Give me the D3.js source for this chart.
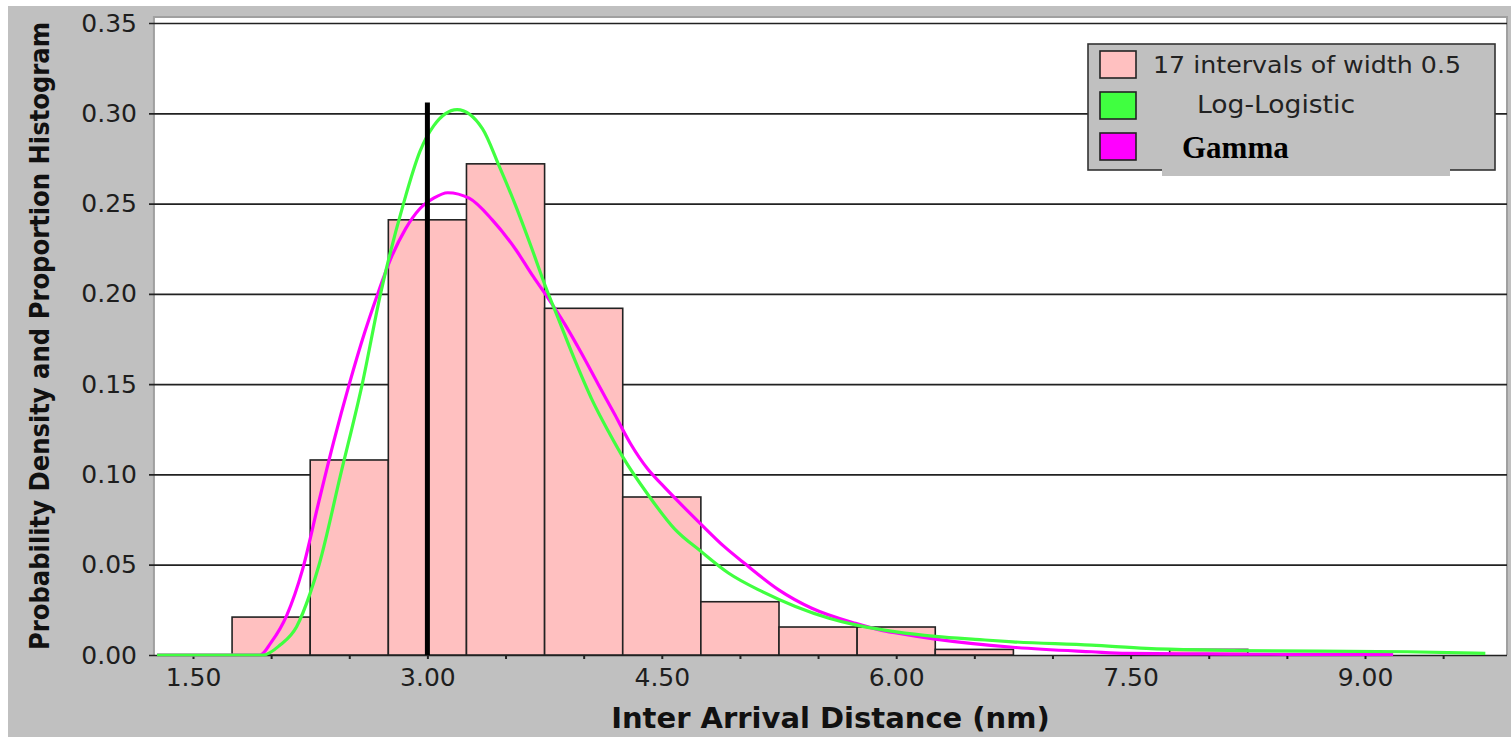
<!DOCTYPE html>
<html>
<head>
<meta charset="utf-8">
<script src="https://cdn.jsdelivr.net/npm/d3@7"></script>
<style>
  body { margin: 0; background: #fff; }
  svg { display: block; }
</style>
</head>
<body>
<div id="chart"></div>
<script>
// histogram: 17 intervals of width 0.5, lower edges + heights
const binWidth = 0.5;
const binStarts = [1.75, 2.25, 2.75, 3.25, 3.75, 4.25, 4.75, 5.25, 5.75, 6.25, 6.75, 7.25, 7.75, 8.25, 8.75, 9.25, 9.75];
const binHeights = [0.021, 0.108, 0.241, 0.272, 0.192, 0.0875, 0.0295, 0.0155, 0.0155, 0.0031, 0, 0, 0.0031, 0, 0, 0, 0];

// fitted densities as [x, density]
const logLogistic = [
  [1.27, 0], [1.95, 0], [2.057, 0.0055], [2.163, 0.0157], [2.249, 0.034], [2.307, 0.05],
  [2.445, 0.10], [2.583, 0.15], [2.70, 0.20], [2.847, 0.25], [2.953, 0.279], [3.04, 0.293],
  [3.19, 0.302], [3.352, 0.2915], [3.458, 0.271], [3.564, 0.249], [3.67, 0.2247], [3.754, 0.2045],
  [3.839, 0.186], [3.945, 0.163], [4.05, 0.142], [4.157, 0.124], [4.248, 0.110], [4.41, 0.089],
  [4.58, 0.0700], [4.75, 0.0574], [4.926, 0.0454], [5.14, 0.0352], [5.355, 0.0269], [5.57, 0.0204],
  [5.74, 0.0167], [5.895, 0.0142], [6.0, 0.0128], [6.25, 0.0103], [6.535, 0.0085], [6.746, 0.0073],
  [7.25, 0.0055], [7.6, 0.0037], [7.94, 0.0028], [8.13, 0.0025], [9.27, 0.0018], [9.77, 0.0009]
];
const gamma = [
  [1.27, 0], [1.93, 0], [2.0, 0.007], [2.1, 0.022], [2.2, 0.047], [2.3, 0.083],
  [2.4, 0.118], [2.5, 0.15], [2.6, 0.179], [2.678, 0.199], [2.773, 0.221], [2.86, 0.236],
  [2.95, 0.247], [3.04, 0.253], [3.13, 0.256], [3.267, 0.253], [3.415, 0.241], [3.564, 0.2247],
  [3.67, 0.2105], [3.754, 0.2000], [3.881, 0.183], [3.987, 0.167], [4.093, 0.150], [4.2, 0.133],
  [4.3, 0.117], [4.41, 0.103], [4.5, 0.0945], [4.6, 0.0855], [4.75, 0.0725], [4.9, 0.060],
  [5.033, 0.0505], [5.248, 0.0361], [5.46, 0.0259], [5.74, 0.0175], [5.9, 0.0138], [6.0, 0.0122],
  [6.25, 0.0088], [6.746, 0.0043], [7.25, 0.0018], [7.475, 0.0009], [7.94, 0.0006], [8.13, 0.0005],
  [9.18, 0.0003]
];

const markerX = 3.0;
const markerTop = 0.306;

const yTicks = [0, 0.05, 0.10, 0.15, 0.20, 0.25, 0.30, 0.35];
const xTicks = [1.5, 2, 2.5, 3, 3.5, 4, 4.5, 5, 5.5, 6, 6.5, 7, 7.5, 8, 8.5, 9, 9.5];
const xLabels = [1.5, 3, 4.5, 6, 7.5, 9];

const legendItems = ["17 intervals of width 0.5", "Log-Logistic", "Gamma"];

const W = 1511, H = 737;
const fontSans = "'DejaVu Sans', Verdana, sans-serif";

const svg = d3.select("#chart")
  .append("svg")
  .attr("width", W)
  .attr("height", H);

const x = d3.scaleLinear().domain([1.5, 9]).range([193, 1365]);
const y = d3.scaleLinear().domain([0, 0.35]).range([655, 23]);

const plot = { left: x(1.25), right: 1507, top: 17, bottom: y(0) };

// grey frame + white plot area
svg.append("rect")
  .attr("x", 8).attr("y", 6)
  .attr("width", W - 8).attr("height", H - 6)
  .attr("fill", "#c0c0c0");

svg.append("rect")
  .attr("x", plot.left).attr("y", plot.top)
  .attr("width", plot.right - plot.left)
  .attr("height", plot.bottom - plot.top)
  .attr("fill", "#fff");

svg.append("path")
  .attr("d", `M${plot.left},${plot.bottom}V${plot.top}H${plot.right}V${plot.bottom}`)
  .attr("fill", "none")
  .attr("stroke", "#a0a0a0")
  .attr("stroke-width", 2);

// y axis with gridlines
svg.append("g")
  .attr("transform", "translate(149,0)")
  .call(d3.axisLeft(y)
    .tickValues(yTicks)
    .tickFormat(d3.format(".2f"))
    .tickSize(-(plot.right - 149))
    .tickPadding(12))
  .call(g => g.select(".domain").remove())
  .call(g => g.selectAll(".tick line").attr("stroke", "#222").attr("stroke-width", 1.7))
  .call(g => g.selectAll(".tick text")
    .attr("font-family", fontSans)
    .attr("font-size", 25)
    .attr("fill", "#1e1e1e"));

// x axis
svg.append("g")
  .attr("transform", `translate(0,${y(0)})`)
  .call(d3.axisBottom(x)
    .tickValues(xTicks)
    .tickSize(4)
    .tickPadding(9)
    .tickFormat(d => xLabels.includes(d) ? d3.format(".2f")(d) : ""))
  .call(g => g.select(".domain").remove())
  .call(g => g.selectAll(".tick line").attr("stroke", "#222").attr("stroke-width", 2))
  .call(g => g.selectAll(".tick text")
    .attr("font-family", fontSans)
    .attr("font-size", 25)
    .attr("fill", "#1e1e1e"));

// histogram bars
const bins = binStarts.map((s, i) => ({ start: s, h: binHeights[i] }));

svg.append("g")
  .selectAll("rect")
  .data(bins)
  .join("rect")
  .attr("x", d => x(d.start))
  .attr("width", d => x(d.start + binWidth) - x(d.start))
  .attr("y", d => y(d.h))
  .attr("height", d => y(0) - y(d.h))
  .attr("fill", "#ffc0c0")
  .attr("stroke", "#222")
  .attr("stroke-width", 1.6);

// density curves
const line = d3.line()
  .x(d => x(d[0]))
  .y(d => y(d[1]))
  .curve(d3.curveMonotoneX);

svg.append("path")
  .datum(gamma)
  .attr("fill", "none")
  .attr("stroke", "#ff00ff")
  .attr("stroke-width", 3.2)
  .attr("d", line);

svg.append("path")
  .datum(logLogistic)
  .attr("fill", "none")
  .attr("stroke", "#40ff40")
  .attr("stroke-width", 3.2)
  .attr("d", line);

// vertical marker
svg.append("line")
  .attr("x1", x(markerX)).attr("x2", x(markerX))
  .attr("y1", y(0)).attr("y2", y(markerTop))
  .attr("stroke", "#000")
  .attr("stroke-width", 5);

// legend
const legend = svg.append("g");
legend.append("rect")
  .attr("x", 1088).attr("y", 44)
  .attr("width", 407).attr("height", 126)
  .attr("fill", "#c0c0c0")
  .attr("stroke", "#333")
  .attr("stroke-width", 1.6);
legend.append("rect")
  .attr("x", 1162).attr("y", 146)
  .attr("width", 288).attr("height", 30)
  .attr("fill", "#c0c0c0");

const swatchColors = ["#ffc0c0", "#40ff40", "#ff00ff"];
legend.selectAll(".sw")
  .data(legendItems)
  .join("rect")
  .attr("class", "sw")
  .attr("x", 1100)
  .attr("y", (d, i) => 51 + i * 41)
  .attr("width", 36).attr("height", 27)
  .attr("fill", (d, i) => swatchColors[i])
  .attr("stroke", "#222")
  .attr("stroke-width", 1.6);

legend.append("text")
  .attr("x", 1153).attr("y", 73)
  .attr("font-family", fontSans).attr("font-size", 23)
  .attr("fill", "#222")
  .attr("textLength", 308).attr("lengthAdjust", "spacingAndGlyphs")
  .text(legendItems[0]);
legend.append("text")
  .attr("x", 1197).attr("y", 113)
  .attr("font-family", fontSans).attr("font-size", 24)
  .attr("fill", "#222")
  .attr("textLength", 158).attr("lengthAdjust", "spacingAndGlyphs")
  .text(legendItems[1]);
legend.append("text")
  .attr("x", 1182).attr("y", 158)
  .attr("font-family", "'Liberation Serif', 'Times New Roman', serif")
  .attr("font-weight", "bold").attr("font-size", 31)
  .attr("fill", "#000")
  .text(legendItems[2]);

// axis titles
svg.append("text")
  .attr("x", (plot.left + plot.right) / 2)
  .attr("y", 728)
  .attr("text-anchor", "middle")
  .attr("font-family", fontSans)
  .attr("font-weight", "bold")
  .attr("font-size", 29)
  .attr("fill", "#111")
  .text("Inter Arrival Distance (nm)");

svg.append("text")
  .attr("transform", "translate(49,336) rotate(-90)")
  .attr("text-anchor", "middle")
  .attr("font-family", "'DejaVu Sans Condensed', 'DejaVu Sans', sans-serif")
  .attr("font-stretch", "condensed")
  .attr("font-weight", "bold")
  .attr("font-size", 27)
  .attr("fill", "#111")
  .text("Probability Density and Proportion Histogram");
</script>
</body>
</html>
